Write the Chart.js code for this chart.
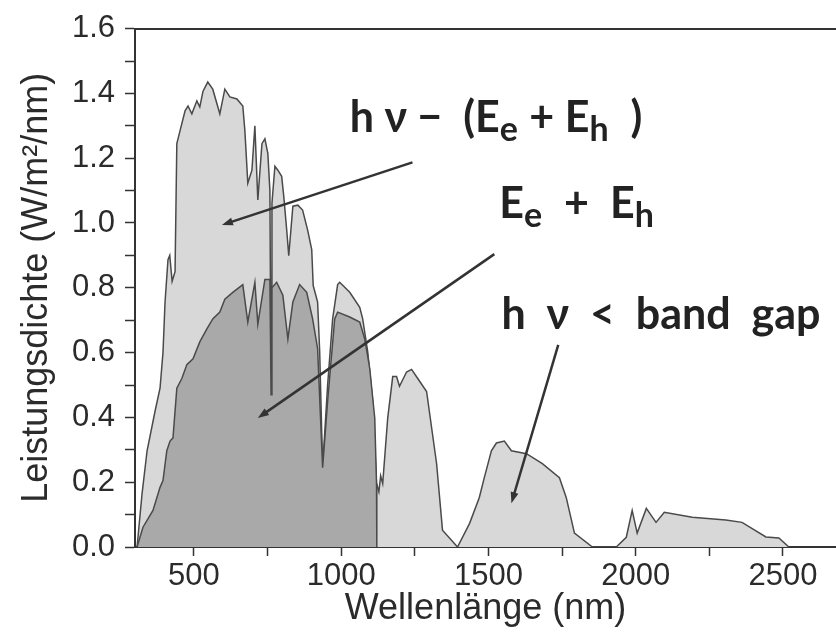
<!DOCTYPE html>
<html>
<head>
<meta charset="utf-8">
<script src="https://cdn.jsdelivr.net/npm/chart.js@4.4.1/dist/chart.umd.min.js"></script>
<style>
  html, body { margin: 0; padding: 0; background: #ffffff; overflow: hidden; }
  #wrap { width: 836px; height: 638px; }
</style>
</head>
<body>
<div id="wrap"><canvas id="chart" width="836" height="638"></canvas></div>
<script>
// Solar spectral power density, full spectrum (W/m²/nm) against wavelength (nm)
const totalWl = [307, 324, 341, 368, 385, 395, 402, 412, 418, 426, 436, 442, 453, 470, 480, 493, 510, 520, 531, 547,
  564, 588, 605, 622, 646, 666, 673, 683, 697, 707, 717, 731, 741, 751, 758, 762, 765, 775, 785, 798,
  805, 815, 822, 836, 853, 869, 886, 900, 905, 920, 927, 937, 954, 971, 988, 995, 1029, 1063, 1073, 1090,
  1107, 1120, 1128, 1134, 1141, 1158, 1175, 1188, 1198, 1222, 1239, 1260, 1290, 1324, 1344, 1395, 1436, 1469, 1486, 1510,
  1527, 1554, 1578, 1629, 1683, 1741, 1764, 1792, 1853, 1934, 1968, 1988, 2005, 2036, 2069, 2097, 2192, 2306, 2361, 2442,
  2486, 2520];
const totalVal = [0.00, 0.165, 0.297, 0.419, 0.49, 0.60, 0.756, 0.887, 0.90, 0.82, 0.85, 1.245, 1.285, 1.346, 1.361, 1.337, 1.377, 1.358, 1.407, 1.435,
  1.413, 1.337, 1.413, 1.389, 1.383, 1.361, 1.285, 1.123, 1.163, 1.30, 1.071, 1.245, 1.26, 1.215, 1.10, 0.47, 1.061, 1.175, 1.163, 1.144,
  1.083, 0.979, 0.899, 1.052, 1.055, 1.04, 0.979, 0.918, 0.807, 0.756, 0.603, 0.245, 0.50, 0.704, 0.81, 0.817, 0.786, 0.74, 0.704, 0.603,
  0.45, 0.196, 0.17, 0.22, 0.196, 0.398, 0.526, 0.526, 0.496, 0.54, 0.548, 0.52, 0.48, 0.257, 0.052, 0.00, 0.073, 0.153, 0.214, 0.297,
  0.321, 0.327, 0.297, 0.288, 0.257, 0.214, 0.153, 0.043, 0.00, 0.00, 0.03, 0.113, 0.043, 0.119, 0.076, 0.107, 0.092, 0.083, 0.076, 0.031,
  0.028, 0.00];

// Part usable as E_e + E_h (silicon, cut off at the band gap)
const pairWl = [307, 327, 361, 385, 395, 408, 419, 429, 442, 459, 476, 497, 520, 544, 564, 588, 605, 632, 666, 683,
  707, 717, 741, 758, 762, 765, 781, 802, 819, 836, 859, 883, 903, 920, 937, 954, 978, 988, 1029, 1063,
  1080, 1097, 1114, 1120, 1121];
const pairVal = [0.00, 0.061, 0.113, 0.184, 0.205, 0.297, 0.327, 0.337, 0.49, 0.52, 0.563, 0.581, 0.633, 0.673, 0.704, 0.725, 0.765, 0.786, 0.81, 0.694,
  0.817, 0.688, 0.826, 0.826, 0.47, 0.80, 0.817, 0.777, 0.642, 0.756, 0.81, 0.786, 0.704, 0.612, 0.245, 0.45, 0.704, 0.725, 0.71, 0.694,
  0.642, 0.551, 0.398, 0.196, 0.00];

// Axis ticks
const xMajorTicks = [500, 1000, 1500, 2000, 2500];
const xMinorTicks = [750, 1250, 1750, 2250];
const yMajorTicks = [0.0, 0.2, 0.4, 0.6, 0.8, 1.0, 1.2, 1.4, 1.6];
const yMinorTicks = [0.1, 0.3, 0.5, 0.7, 0.9, 1.1, 1.3, 1.5];

const xTitle = 'Wellenlänge (nm)';
const yTitle = 'Leistungsdichte (W/m²/nm)';

// Labels on the plot: [text, isSubscript] runs, anchored in data units
const noteTexts = [
  [['h ν −  (E', 0], ['e', 1], [' + E', 0], ['h', 1], ['  )', 0]],
  [['E', 0], ['e', 1], ['  +  E', 0], ['h', 1]],
  [['h  ν  <  band  gap', 0]]
];
const noteAnchors = [[1029, 1.282], [1537, 1.016], [1544, 0.673]];
const pointerFrom = [[1242, 1.187], [1520, 0.904], [1737, 0.624]];
const pointerTo = [[595, 0.994], [717, 0.398], [1578, 0.135]];

const toXY = (xs, ys) => xs.map((x, i) => ({ x: x, y: ys[i] }));

const INK = '#2b2b2b';
const AXIS_FONT = { family: "'Liberation Sans', Arial, sans-serif", size: 31 };
const TITLE_FONT = { family: "'Liberation Sans', Arial, sans-serif", size: 36 };
const NOTE_FAMILY = "Lato, 'DejaVu Sans', sans-serif";
const NOTE_SIZE = 43;

const notesPlugin = {
  id: 'notes',
  afterDatasetsDraw(chart) {
    const { ctx, scales: { x, y } } = chart;
    ctx.save();
    // pointer lines with small arrowheads
    ctx.strokeStyle = '#333';
    ctx.fillStyle = '#333';
    ctx.lineWidth = 2.5;
    pointerFrom.forEach((f, i) => {
      const t = pointerTo[i];
      const x1 = x.getPixelForValue(f[0]), y1 = y.getPixelForValue(f[1]);
      const x2 = x.getPixelForValue(t[0]), y2 = y.getPixelForValue(t[1]);
      const a = Math.atan2(y2 - y1, x2 - x1);
      ctx.beginPath();
      ctx.moveTo(x1, y1);
      ctx.lineTo(x2 - 6 * Math.cos(a), y2 - 6 * Math.sin(a));
      ctx.stroke();
      ctx.beginPath();
      ctx.moveTo(x2, y2);
      ctx.lineTo(x2 - 11 * Math.cos(a) + 4 * Math.sin(a), y2 - 11 * Math.sin(a) - 4 * Math.cos(a));
      ctx.lineTo(x2 - 11 * Math.cos(a) - 4 * Math.sin(a), y2 - 11 * Math.sin(a) + 4 * Math.cos(a));
      ctx.closePath();
      ctx.fill();
    });
    // texts with subscripts
    ctx.fillStyle = '#222';
    ctx.textBaseline = 'alphabetic';
    ctx.textAlign = 'left';
    noteTexts.forEach((runs, i) => {
      let px = x.getPixelForValue(noteAnchors[i][0]);
      const py = y.getPixelForValue(noteAnchors[i][1]);
      runs.forEach(([txt, sub]) => {
        ctx.font = 'bold ' + (sub ? Math.round(NOTE_SIZE * 0.8) : NOTE_SIZE) + 'px ' + NOTE_FAMILY;
        ctx.fillText(txt, px, sub ? py + 9 : py);
        px += ctx.measureText(txt).width + (sub ? 1 : 0);
      });
    });
    ctx.restore();
  }
};

const tickList = (major, minor) => major.concat(minor).sort((a, b) => a - b).map(v => ({ value: v }));

new Chart(document.getElementById('chart'), {
  type: 'line',
  data: {
    datasets: [
      {
        label: 'E_e + E_h',
        data: toXY(pairWl, pairVal),
        borderColor: '#4a4a4a',
        borderWidth: 1.5,
        backgroundColor: '#a9a9a9',
        fill: 'origin',
        pointRadius: 0,
        tension: 0
      },
      {
        label: 'Spektrum',
        data: toXY(totalWl, totalVal),
        borderColor: '#4a4a4a',
        borderWidth: 1.5,
        backgroundColor: '#d8d8d8',
        fill: 'origin',
        pointRadius: 0,
        tension: 0
      }
    ]
  },
  options: {
    responsive: false,
    animation: false,
    devicePixelRatio: 1,
    layout: { padding: 0 },
    plugins: { legend: { display: false }, tooltip: { enabled: false } },
    scales: {
      x: {
        type: 'linear',
        position: 'bottom',
        min: 300,
        max: 2680,
        afterFit(s) { s.height = 91; },
        afterBuildTicks(s) { s.ticks = tickList(xMajorTicks, xMinorTicks); },
        ticks: {
          autoSkip: false,
          maxRotation: 0,
          padding: 2,
          color: INK,
          font: AXIS_FONT,
          callback: v => (xMajorTicks.includes(v) ? String(v) : '')
        },
        grid: { drawOnChartArea: false, drawTicks: true, tickLength: 9, tickColor: '#333', tickWidth: 1.5 },
        border: { display: true, color: '#333', width: 2 },
        title: { display: true, text: xTitle, color: INK, font: TITLE_FONT, padding: { top: 0, bottom: 7 } }
      },
      x2: {
        type: 'linear',
        position: 'top',
        min: 300,
        max: 2680,
        afterFit(s) { s.height = 24; },
        ticks: { display: false },
        grid: { display: false, drawTicks: false },
        border: { display: true, color: '#333', width: 2 }
      },
      y: {
        type: 'linear',
        position: 'left',
        min: 0,
        max: 1.6,
        afterFit(s) { s.width = 135; },
        afterBuildTicks(s) { s.ticks = tickList(yMajorTicks, yMinorTicks); },
        ticks: {
          autoSkip: false,
          padding: 10,
          color: INK,
          font: AXIS_FONT,
          callback: v => (Math.round(v * 10) % 2 === 0 ? v.toFixed(1) : '')
        },
        grid: { drawOnChartArea: false, drawTicks: true, tickLength: 10, tickColor: '#333', tickWidth: 1.5 },
        border: { display: true, color: '#333', width: 2 },
        title: { display: true, text: yTitle, color: INK, font: TITLE_FONT, padding: { top: 15, bottom: 0 } }
      }
    }
  },
  plugins: [notesPlugin]
});
</script>
</body>
</html>
